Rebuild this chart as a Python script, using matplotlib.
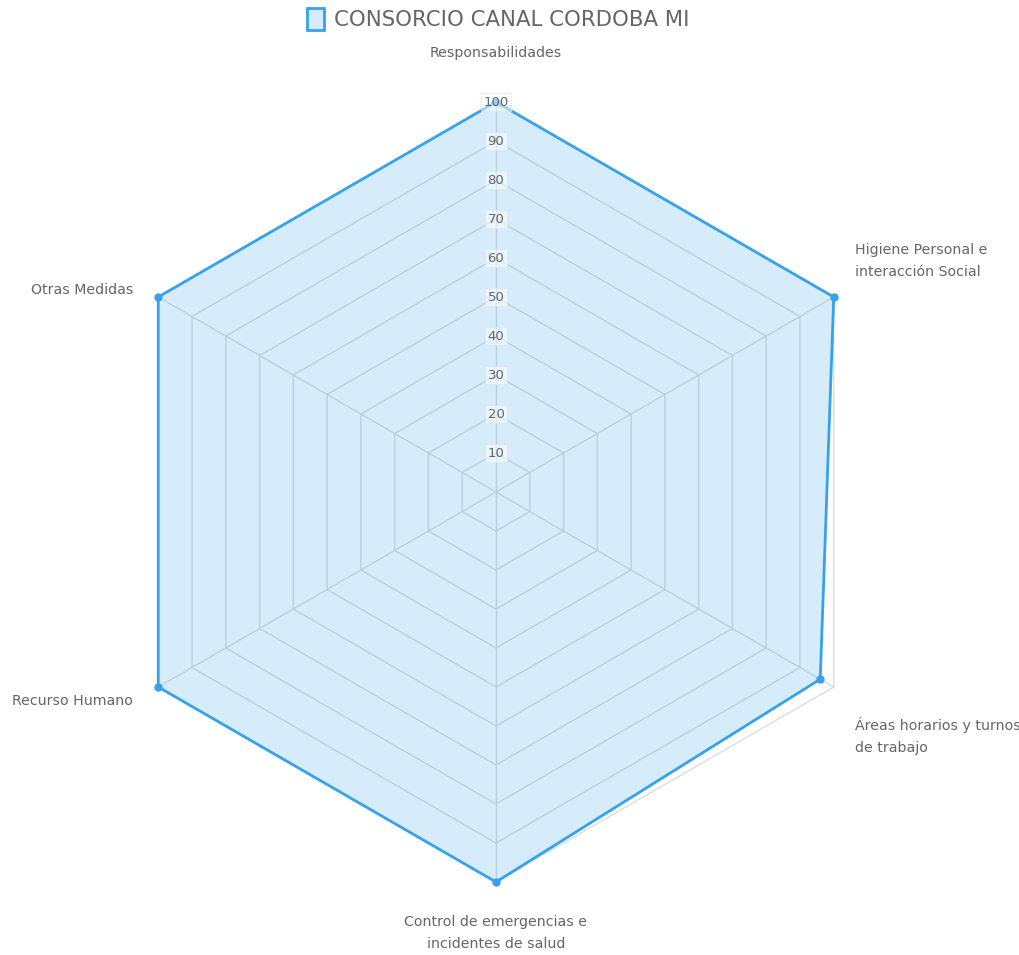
import numpy as np
import matplotlib.pyplot as plt
from matplotlib.patches import Patch

plt.rcParams['font.family'] = ['DejaVu Sans']

categories = ["Responsabilidades", "Higiene Personal e\ninteracción Social",
              "Áreas horarios y turnos\nde trabajo", "Control de emergencias e\nincidentes de salud",
              "Recurso Humano", "Otras Medidas"]
values = [100, 100, 96, 100, 100, 100]
ticks = [10, 20, 30, 40, 50, 60, 70, 80, 90, 100]
series_name = "CONSORCIO CANAL CORDOBA MI"

LINE = "#36a2eb"
FILL = (54 / 255, 162 / 255, 235 / 255, 0.2)
GRID = "#dddddd"
TEXT = "#666666"

W, H = 1020, 955
fig = plt.figure(figsize=(W / 100, H / 100), dpi=100)
cx, cy, r = 496, 492, 390
ax = fig.add_axes([(cx - r) / W, (H - cy - r) / H, 2 * r / W, 2 * r / H], projection="polar")
ax.set_theta_offset(np.pi / 2)
ax.set_theta_direction(-1)
ax.set_ylim(0, 100)
ax.grid(False)
ax.spines["polar"].set_visible(False)
ax.set_xticks([])
ax.set_yticks([])
ax.patch.set_alpha(0)

n = len(categories)
angles = np.arange(n) * 2 * np.pi / n
closed = np.append(angles, angles[0])

# hexagonal grid
for t in ticks:
    ax.plot(closed, [t] * (n + 1), color=GRID, lw=1, zorder=1, clip_on=False)
for a in angles:
    ax.plot([a, a], [0, 100], color=GRID, lw=1, zorder=1, clip_on=False)

vals = values + values[:1]
ax.fill(closed, vals, color=FILL, zorder=2, lw=0, clip_on=False)
ax.plot(closed, vals, color=LINE, lw=2, zorder=3, clip_on=False)
ax.plot(angles, values, "o", color=LINE, ms=5, zorder=4, clip_on=False)

for t in ticks:
    ax.text(0, t, str(t), ha="center", va="center", fontsize=9.5, color=TEXT, zorder=5,
            bbox=dict(boxstyle="square,pad=0.2", fc=(1, 1, 1, 0.5), ec=(0.85, 0.9, 0.95, 0.8), lw=0.6))

# point labels (pixel positions)
label_pos = [
    (496, 53, "center"),
    (855, 261, "left"),
    (855, 736, "left"),
    (496, 933, "center"),
    (133, 701, "right"),
    (133, 290, "right"),
]
for (x, y, ha), lab in zip(label_pos, categories):
    fig.text(x / W, 1 - y / H, lab, ha=ha, va="center", fontsize=10.2, color=TEXT,
             linespacing=1.65, multialignment=ha)

fig.legend(handles=[Patch(facecolor=FILL, edgecolor=LINE, lw=2, label=series_name)],
           loc="center", bbox_to_anchor=(498 / W, 1 - 19 / H), frameon=False,
           fontsize=15.3, labelcolor=TEXT, handlelength=0.8, handleheight=1.2, handletextpad=0.45)

fig.savefig("out.png", dpi=100)
